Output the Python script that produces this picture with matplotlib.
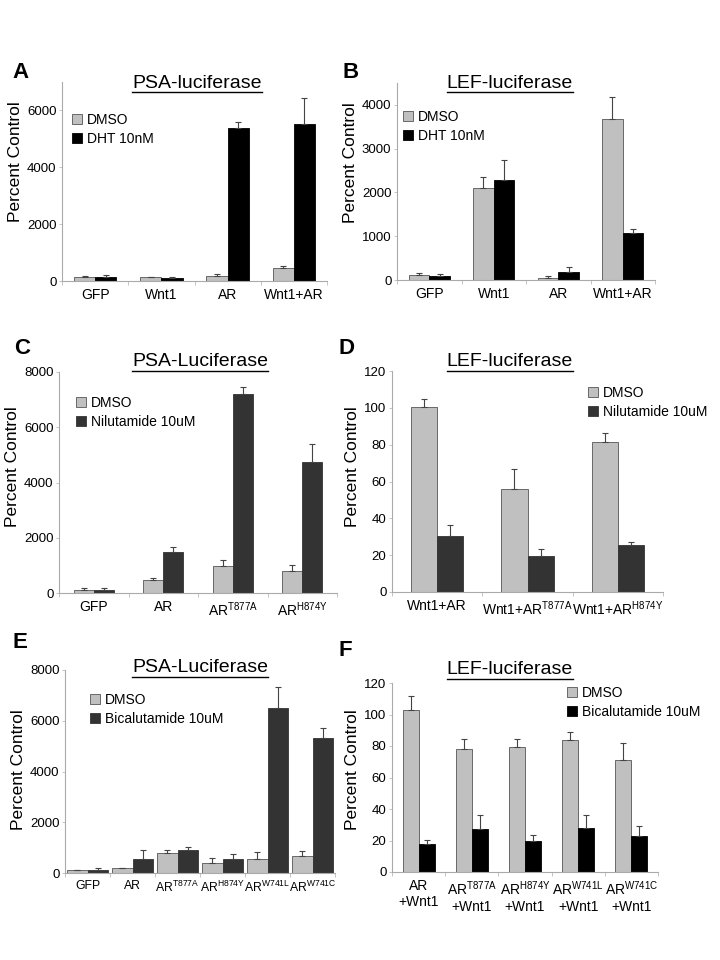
import numpy as np
import matplotlib
matplotlib.use("Agg")
import matplotlib.pyplot as plt
from matplotlib.lines import Line2D

plt.rcParams['font.family'] = ['Liberation Sans', 'DejaVu Sans']
plt.rcParams['mathtext.fontset'] = 'custom'
plt.rcParams['mathtext.rm'] = 'Liberation Sans'

W, H = 720, 960

# ---- data ----
a_cats = ['GFP', 'Wnt1', 'AR', 'Wnt1+AR']
a_dmso = [130, 130, 170, 450]
a_dmso_err = [30, 20, 90, 80]
a_dht = [150, 110, 5390, 5520]
a_dht_err = [70, 15, 200, 920]

b_cats = ['GFP', 'Wnt1', 'AR', 'Wnt1+AR']
b_dmso = [107, 2095, 55, 3670]
b_dmso_err = [50, 250, 25, 500]
b_dht = [100, 2285, 190, 1075]
b_dht_err = [30, 460, 100, 85]

c_cats = ['GFP', 'AR', r'AR$^{\mathregular{T877A}}$', r'AR$^{\mathregular{H874Y}}$']
c_dmso = [120, 480, 960, 780]
c_dmso_err = [45, 50, 240, 240]
c_nil = [100, 1500, 7220, 4750]
c_nil_err = [70, 180, 230, 650]

d_cats = ['Wnt1+AR', r'Wnt1+AR$^{\mathregular{T877A}}$', r'Wnt1+AR$^{\mathregular{H874Y}}$']
d_dmso = [100.2, 55.8, 81.2]
d_dmso_err = [4.4, 10.9, 4.9]
d_nil = [30.6, 19.4, 25.6]
d_nil_err = [6.0, 4.0, 1.6]

e_cats = ['GFP', 'AR', r'AR$^{\mathregular{T877A}}$', r'AR$^{\mathregular{H874Y}}$',
          r'AR$^{\mathregular{W741L}}$', r'AR$^{\mathregular{W741C}}$']
e_dmso = [105, 184, 787, 393, 551, 682]
e_dmso_err = [25, 25, 100, 200, 260, 200]
e_bic = [105, 551, 892, 564, 6490, 5310]
e_bic_err = [80, 340, 130, 200, 830, 400]

f_cats = ['AR\n+Wnt1', 'AR$^{\\mathregular{T877A}}$\n+Wnt1', 'AR$^{\\mathregular{H874Y}}$\n+Wnt1',
          'AR$^{\\mathregular{W741L}}$\n+Wnt1', 'AR$^{\\mathregular{W741C}}$\n+Wnt1']
f_dmso = [103, 78, 79.6, 83.7, 70.9]
f_dmso_err = [9, 6.7, 4.7, 4.9, 10.9]
f_bic = [18, 27.6, 19.5, 28.2, 22.7]
f_bic_err = [2.6, 8.9, 3.7, 8.3, 6.8]

GRAY = '#c0c0c0'
BLACK = '#000000'
DARK = '#333333'

fig = plt.figure(figsize=(W / 100, H / 100), dpi=100)


def fx(x):
    return x / W


def fy(y):
    return 1 - y / H


def panel(box, cats, s1, e1, s2, e2, c2, lab2, ymax, yticks, width,
          letter, letter_xy, title, title_xy, leg_xy, ylab_y, xfont=10):
    x0, y0, x1, y1 = box
    ax = fig.add_axes([fx(x0), fy(y1), (x1 - x0) / W, (y1 - y0) / H])
    x = np.arange(len(cats))
    ekw = dict(ecolor='#444444', elinewidth=0.8, capsize=2.5, capthick=0.8)
    ax.bar(x - width / 2, s1, width, color=GRAY, edgecolor='#555555', linewidth=0.6,
           yerr=[np.zeros(len(s1)), e1], error_kw=ekw, label='DMSO')
    ax.bar(x + width / 2, s2, width, color=c2, edgecolor=c2, linewidth=0.6,
           yerr=[np.zeros(len(s2)), e2], error_kw=ekw, label=lab2)
    ax.set_xlim(-0.5, len(cats) - 0.5)
    ax.set_ylim(0, ymax)
    ax.set_yticks(yticks)
    ax.set_xticks(x)
    ax.set_xticklabels(cats, fontsize=xfont)
    ax.set_xticks(np.arange(len(cats) + 1) - 0.5, minor=True)
    ax.tick_params(axis='x', which='major', length=0, pad=5)
    ax.tick_params(axis='x', which='minor', length=3, color='#bbbbbb', width=0.6)
    ax.tick_params(axis='y', length=2, color='#bbbbbb', width=0.6, labelsize=9.5, pad=2)
    for s in ['top', 'right']:
        ax.spines[s].set_visible(False)
    for s in ['left', 'bottom']:
        ax.spines[s].set_color('#aaaaaa')
        ax.spines[s].set_linewidth(0.8)
    ax.set_ylabel('Percent Control', fontsize=12.5, labelpad=3)
    ax.yaxis.label.set_y((y1 - ylab_y) / (y1 - y0))
    ax.legend(loc='upper left', bbox_to_anchor=(fx(leg_xy[0]), fy(leg_xy[1])),
              bbox_transform=fig.transFigure, frameon=False, fontsize=10,
              handlelength=0.7, handleheight=0.7, handletextpad=0.4,
              labelspacing=0.35, borderpad=0, borderaxespad=0)
    fig.text(fx(letter_xy[0]), fy(letter_xy[1]), letter, fontsize=16, fontweight='bold',
             ha='left', va='center')
    t = fig.text(fx(title_xy[0]), fy(title_xy[1]), title, fontsize=14,
                 ha='center', va='center')
    return ax, t


titles = []
titles.append(panel((62, 82, 327, 281), a_cats, a_dmso, a_dmso_err, a_dht, a_dht_err,
                    BLACK, 'DHT 10nM', 7000, [0, 2000, 4000, 6000], 0.32,
                    'A', (12, 72), 'PSA-luciferase', (197, 83), (72, 113), 162)[1])
titles.append(panel((397, 83, 655, 280), b_cats, b_dmso, b_dmso_err, b_dht, b_dht_err,
                    BLACK, 'DHT 10nM', 4500, [0, 1000, 2000, 3000, 4000], 0.32,
                    'B', (343, 72), 'LEF-luciferase', (510, 83), (403, 110), 163)[1])
titles.append(panel((59, 372, 337, 593), c_cats, c_dmso, c_dmso_err, c_nil, c_nil_err,
                    DARK, 'Nilutamide 10uM', 8000, [0, 2000, 4000, 6000, 8000], 0.29,
                    'C', (14, 348), 'PSA-Luciferase', (200, 362), (76, 396), 467)[1])
titles.append(panel((392, 371, 663, 592), d_cats, d_dmso, d_dmso_err, d_nil, d_nil_err,
                    DARK, 'Nilutamide 10uM', 120, list(range(0, 121, 20)), 0.29,
                    'D', (338, 348), 'LEF-luciferase', (510, 362), (588, 386), 467)[1])
titles.append(panel((65, 670, 335, 873), e_cats, e_dmso, e_dmso_err, e_bic, e_bic_err,
                    DARK, 'Bicalutamide 10uM', 8000, [0, 2000, 4000, 6000, 8000], 0.45,
                    'E', (12, 643), 'PSA-Luciferase', (200, 668), (90, 693), 770,
                    xfont=8.8)[1])
titles.append(panel((392, 683, 658, 872), f_cats, f_dmso, f_dmso_err, f_bic, f_bic_err,
                    BLACK, 'Bicalutamide 10uM', 120, list(range(0, 121, 20)), 0.3,
                    'F', (338, 650), 'LEF-luciferase', (510, 670), (567, 686), 770)[1])

# underline the panel titles
fig.canvas.draw()
r = fig.canvas.get_renderer()
for t in titles:
    bb = t.get_window_extent(renderer=r).transformed(fig.transFigure.inverted())
    fig.add_artist(Line2D([bb.x0, bb.x1], [bb.y0 - 0.001, bb.y0 - 0.001],
                          transform=fig.transFigure, color='black', linewidth=1.0))

fig.savefig('out.png', dpi=100)
